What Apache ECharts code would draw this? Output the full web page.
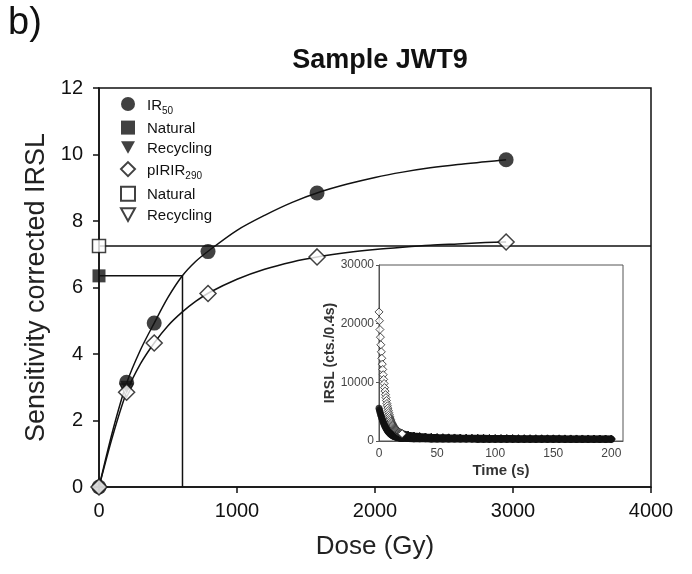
<!DOCTYPE html>
<html><head><meta charset="utf-8">
<script src="https://cdn.jsdelivr.net/npm/echarts@6/dist/echarts.min.js"></script>
<style>html,body{margin:0;padding:0;background:#fff}#c{width:692px;height:574px}</style>
</head><body><div id="c"></div>
<script>
// ---- Main dose-response data ----
const doses = [0, 200, 400, 790, 1580, 2950];
const ir50 = [0, 3.15, 4.93, 7.08, 8.84, 9.84];
const pirir290 = [0, 2.85, 4.33, 5.82, 6.92, 7.37];
const naturalIR50 = [6.35];
const naturalPIRIR = [7.25];
const deIR50 = [605];
const recycleDose = [200];
const recycleIR50 = [3.0];
const recyclePIRIR = [2.9];
const doseTicks = [0, 1000, 2000, 3000, 4000];
const sensTicks = [0, 2, 4, 6, 8, 10, 12];

// ---- Fitted growth curves ----
const fitDose = [0, 100, 200, 300, 400, 500, 600, 700, 800, 1000, 1200, 1400, 1600, 1800, 2000, 2200, 2400, 2600, 2800, 2950];
const fitIR50 = [0, 1.7, 3.12, 4.12, 4.93, 5.7, 6.33, 6.78, 7.12, 7.72, 8.17, 8.56, 8.87, 9.11, 9.31, 9.47, 9.6, 9.7, 9.78, 9.84];
const fitPIRIR = [0, 1.55, 2.85, 3.7, 4.33, 4.85, 5.25, 5.58, 5.85, 6.25, 6.55, 6.77, 6.93, 7.05, 7.14, 7.21, 7.27, 7.31, 7.35, 7.37];

// ---- Inset decay curves (IRSL counts per 0.4 s) ----
const tHead = [0,0.4,0.8,1.2,1.6,2.0,2.4,2.8,3.2,3.6,4.0,4.4,4.8,5.2,5.6,6.0,6.4,6.8,7.2,7.6,8.0,8.4,8.8,9.2,9.6,10.0,10.4,10.8,11.2,11.6,12.0,12.4,12.8,13.2,13.6,14.0,14.4,14.8,15.2,15.6,16.0,16.4,16.8,17.2,17.6,18.0,18.4,18.8,19.2,19.6,20.0];
const headPIRIR = [22000,20500,19000,17700,16400,15200,14100,13100,12200,11300,10500,9800,9100,8500,7900,7400,6900,6400,6000,5600,5200,4850,4500,4200,3900,3650,3400,3200,3000,2850,2700,2560,2430,2310,2200,2100,2000,1920,1840,1770,1700,1640,1580,1530,1480,1430,1390,1350,1310,1270,1240];
const headIR50 = [5600,5300,5000,4700,4450,4200,3950,3700,3480,3270,3070,2880,2700,2530,2370,2220,2080,1950,1830,1720,1620,1520,1430,1350,1270,1200,1130,1070,1010,960,910,870,830,790,760,730,700,675,650,630,610,590,570,555,540,525,510,500,490,480,470];
const tTail = [20,25,30,35,40,45,50,55,60,65,70,75,80,85,90,95,100,105,110,115,120,125,130,135,140,145,150,155,160,165,170,175,180,185,190,195,200];
const tailPIRIR = [1240,1000,850,750,680,630,590,565,540,520,500,485,470,460,450,440,430,422,415,408,400,395,390,385,380,375,370,365,360,355,350,348,345,342,340,338,335];
const tailIR50 = [470,430,400,380,365,355,345,340,335,330,325,322,320,318,315,312,310,308,306,304,302,300,298,296,295,294,293,292,291,290,289,288,287,286,285,284,283];

const FONT = '"Liberation Sans", Arial, sans-serif';
const zip = (a, b) => a.map((v, i) => [v, b[i]]);
const plain = v => String(v);
const DOWN_TRI = 'path://M0,0L10,0L5,9Z';

const legendLabels = {
  'IR50': '{a|IR}{s|50}',
  'Natural IR50': '{a|Natural}',
  'Recycling IR50': '{a|Recycling}',
  'pIRIR290': '{a|pIRIR}{s|290}',
  'Natural pIRIR290': '{a|Natural}',
  'Recycling pIRIR290': '{a|Recycling}'
};

const openStyle = {color: '#fff', borderColor: '#111', borderWidth: 1.5};
const fillStyle = {color: '#111'};

const option = {
  backgroundColor: '#fff',
  animation: false,
  textStyle: {fontFamily: FONT},
  title: {
    text: 'Sample JWT9', left: 375, top: 42, textAlign: 'center',
    textStyle: {fontFamily: FONT, fontSize: 27, fontWeight: 'bold', color: '#111'}
  },
  graphic: [{
    type: 'text', left: 8, top: 5,
    style: {text: 'b)', font: '38px "Liberation Sans", Arial, sans-serif', fill: '#111'}
  }],
  legend: {
    left: 115, top: 92, orient: 'vertical', itemWidth: 14, itemHeight: 14, itemGap: 4.6,
    selectedMode: false, symbolKeepAspect: true,
    data: [
      {name: 'IR50'},
      {name: 'Natural IR50'},
      {name: 'Recycling IR50', icon: DOWN_TRI},
      {name: 'pIRIR290'},
      {name: 'Natural pIRIR290'},
      {name: 'Recycling pIRIR290', icon: DOWN_TRI}
    ],
    formatter: n => legendLabels[n],
    textStyle: {
      fontFamily: FONT, fontSize: 15, color: '#111', padding: [0, 0, 0, 7],
      rich: {
        a: {fontFamily: FONT, fontSize: 15, color: '#111', lineHeight: 18, verticalAlign: 'bottom'},
        s: {fontFamily: FONT, fontSize: 10, color: '#111', lineHeight: 10, verticalAlign: 'bottom', padding: [0, 0, -3, 0]}
      }
    }
  },
  grid: [
    {left: 99, top: 88, width: 552, height: 399, show: true, borderColor: '#111', borderWidth: 1.5, backgroundColor: '#fff'},
    {left: 379, top: 265, width: 244, height: 176, show: true, borderColor: '#555', borderWidth: 1, backgroundColor: '#fff', z: 10}
  ],
  xAxis: [
    {
      gridIndex: 0, type: 'value', min: doseTicks[0], max: doseTicks[doseTicks.length - 1], interval: 1000,
      axisLine: {onZero: false, lineStyle: {color: '#111', width: 1.5}},
      axisTick: {length: 6, lineStyle: {color: '#111', width: 1.5}},
      axisLabel: {fontFamily: FONT, fontSize: 20, color: '#111', margin: 14, formatter: plain},
      splitLine: {show: false},
      name: 'Dose (Gy)', nameLocation: 'middle', nameGap: 47,
      nameTextStyle: {fontFamily: FONT, fontSize: 26, color: '#222'}
    },
    {
      gridIndex: 1, type: 'value', min: 0, max: 210, interval: 50, z: 11,
      axisLine: {onZero: false, lineStyle: {color: '#555', width: 1}},
      axisTick: {show: false},
      axisLabel: {fontFamily: FONT, fontSize: 12, color: '#444', margin: 7, showMaxLabel: false, formatter: plain},
      splitLine: {show: false},
      name: 'Time (s)', nameLocation: 'middle', nameGap: 22,
      nameTextStyle: {fontFamily: FONT, fontSize: 15, fontWeight: 'bold', color: '#333'}
    }
  ],
  yAxis: [
    {
      gridIndex: 0, type: 'value', min: sensTicks[0], max: sensTicks[sensTicks.length - 1], interval: 2,
      axisLine: {onZero: false, lineStyle: {color: '#111', width: 1.5}},
      axisTick: {length: 6, lineStyle: {color: '#111', width: 1.5}},
      axisLabel: {fontFamily: FONT, fontSize: 20, color: '#111', margin: 16, formatter: plain},
      splitLine: {show: false},
      name: 'Sensitivity corrected IRSL', nameLocation: 'middle', nameGap: 44,
      nameTextStyle: {fontFamily: FONT, fontSize: 27, color: '#222'}
    },
    {
      gridIndex: 1, type: 'value', min: 0, max: 30000, interval: 10000, z: 11,
      axisLine: {onZero: false, lineStyle: {color: '#555', width: 1}},
      axisTick: {length: 3, lineStyle: {color: '#555'}},
      axisLabel: {fontFamily: FONT, fontSize: 12, color: '#444', margin: 5, formatter: plain},
      splitLine: {show: false},
      name: 'IRSL (cts./0.4s)', nameLocation: 'middle', nameGap: 40,
      nameTextStyle: {fontFamily: FONT, fontSize: 14, fontWeight: 'bold', color: '#333'}
    }
  ],
  series: [
    {type: 'line', name: 'fitIR50', xAxisIndex: 0, yAxisIndex: 0, data: zip(fitDose, fitIR50), smooth: 0.3,
     symbol: 'none', silent: true, lineStyle: {color: '#111', width: 1.5}, z: 2},
    {type: 'line', name: 'fitPIRIR', xAxisIndex: 0, yAxisIndex: 0, data: zip(fitDose, fitPIRIR), smooth: 0.3,
     symbol: 'none', silent: true, lineStyle: {color: '#111', width: 1.5}, z: 2},
    {type: 'line', name: 'deIR50', xAxisIndex: 0, yAxisIndex: 0,
     data: [[0, naturalIR50[0]], [deIR50[0], naturalIR50[0]], [deIR50[0], 0]],
     symbol: 'none', silent: true, lineStyle: {color: '#111', width: 1.5}, z: 2},
    {type: 'line', name: 'dePIRIR', xAxisIndex: 0, yAxisIndex: 0,
     data: [[0, naturalPIRIR[0]], [doseTicks[doseTicks.length - 1], naturalPIRIR[0]]],
     symbol: 'none', silent: true, lineStyle: {color: '#111', width: 1.5}, z: 2},
    {type: 'scatter', name: 'IR50', xAxisIndex: 0, yAxisIndex: 0, data: zip(doses, ir50),
     symbol: 'circle', symbolSize: 15, itemStyle: fillStyle, z: 4},
    {type: 'scatter', name: 'Natural IR50', xAxisIndex: 0, yAxisIndex: 0, data: [[0, naturalIR50[0]]],
     symbol: 'rect', symbolSize: 13, itemStyle: fillStyle, z: 4},
    {type: 'scatter', name: 'Recycling IR50', xAxisIndex: 0, yAxisIndex: 0, data: zip(recycleDose, recycleIR50),
     symbol: DOWN_TRI, symbolSize: 13, itemStyle: fillStyle, z: 4},
    {type: 'scatter', name: 'pIRIR290', xAxisIndex: 0, yAxisIndex: 0, data: zip(doses, pirir290),
     symbol: 'diamond', symbolSize: 16, itemStyle: openStyle, z: 5},
    {type: 'scatter', name: 'Natural pIRIR290', xAxisIndex: 0, yAxisIndex: 0, data: [[0, naturalPIRIR[0]]],
     symbol: 'rect', symbolSize: 13, itemStyle: openStyle, z: 5},
    {type: 'scatter', name: 'Recycling pIRIR290', xAxisIndex: 0, yAxisIndex: 0, data: zip(recycleDose, recyclePIRIR),
     symbol: DOWN_TRI, symbolSize: 13, itemStyle: openStyle, z: 3},
    // inset
    {type: 'line', name: 'tailIR50', xAxisIndex: 1, yAxisIndex: 1, data: zip(tTail, tailIR50),
     symbol: 'circle', symbolSize: 7, itemStyle: {color: '#111'}, lineStyle: {color: '#111', width: 7}, z: 12, silent: true},
    {type: 'line', name: 'tailPIRIR', xAxisIndex: 1, yAxisIndex: 1, data: zip(tTail, tailPIRIR),
     symbol: 'diamond', symbolSize: 8, itemStyle: {color: '#111', borderColor: '#111', borderWidth: 1}, lineStyle: {color: '#111', width: 7}, z: 12, silent: true},
    {type: 'scatter', name: 'headIR50', xAxisIndex: 1, yAxisIndex: 1, data: zip(tHead, headIR50),
     symbol: 'circle', symbolSize: 7, itemStyle: {color: '#111'}, z: 13, silent: true},
    {type: 'scatter', name: 'headPIRIR', xAxisIndex: 1, yAxisIndex: 1, data: zip(tHead, headPIRIR),
     symbol: 'diamond', symbolSize: 8, itemStyle: {color: '#fff', borderColor: '#222', borderWidth: 1}, z: 14, silent: true}
  ]
};

const chart = echarts.init(document.getElementById('c'), null, {renderer: 'canvas'});
chart.setOption(option);
</script></body></html>
